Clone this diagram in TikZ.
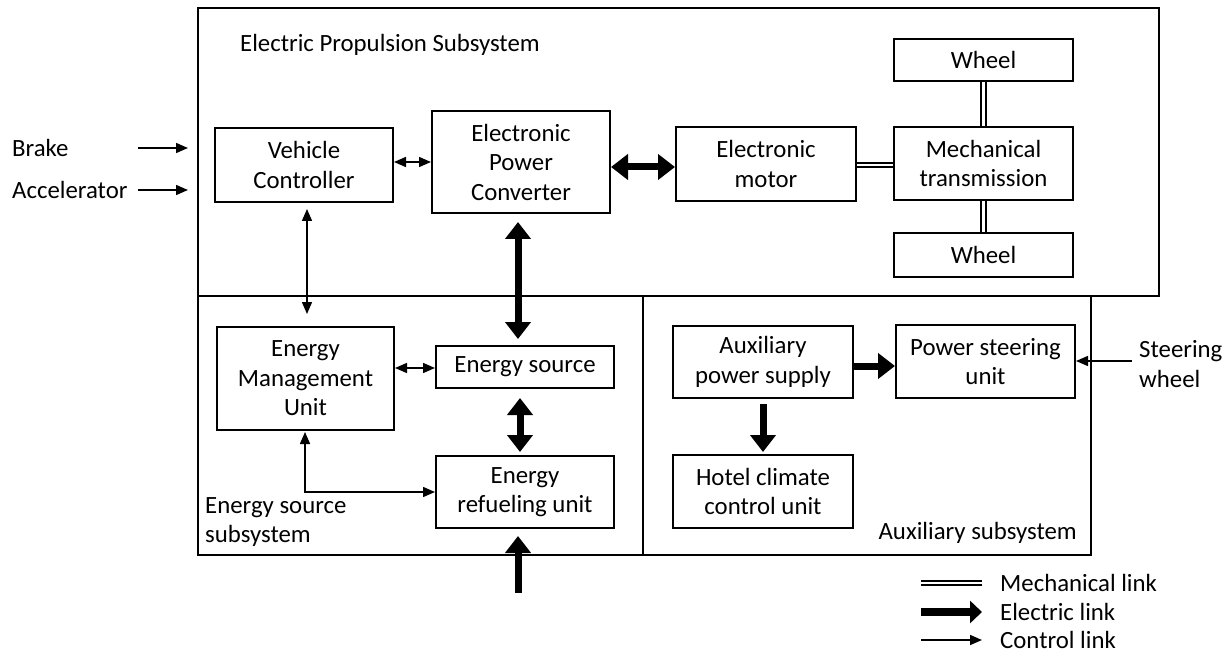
\documentclass[tikz,border=0pt]{standalone}
\usepackage{fontspec}
\setmainfont{Carlito}
\usetikzlibrary{arrows.meta,calc}
\begin{document}
\begin{tikzpicture}[x=1pt,y=-1pt,
  txt/.style={font=\fontsize{24.8}{29.5}\selectfont, inner sep=0pt},
  box/.style={txt, draw, line width=2pt, align=center, minimum width=#1},
  frame/.style={draw, line width=2pt},
  ctrl/.style={line width=1.5pt, arrows={-Triangle[length=12pt,width=10pt]}},
  ctrlb/.style={line width=1.5pt, arrows={Triangle[length=12pt,width=10pt]-Triangle[length=12pt,width=10pt]}},
  elec/.style={line width=7pt, arrows={-Triangle[length=17pt,width=25pt]}},
  elecb/.style={line width=7pt, arrows={Triangle[length=17pt,width=25pt]-Triangle[length=17pt,width=25pt]}},
  mech/.style={double, double distance=2.4pt, line width=1.9pt}
]
\useasboundingbox (0,0) rectangle (1229,663);
% frames
\draw[frame] (198,8) rectangle (1159,296);
\draw[frame] (198,296) rectangle (643,555);
\draw[frame] (643,296) rectangle (1091,555);

% labels
\node[txt, anchor=west] (lbrake) at (12,148) {Brake};
\node[txt, anchor=west] (lacc) at (12,190) {Accelerator};
\node[txt, anchor=west] (leps) at (240,45) {Electric Propulsion Subsystem};
\node[txt, anchor=west, align=left] (less) at (205,522) {Energy source\\subsystem};
\node[txt, anchor=east] (laux) at (1077,533) {Auxiliary subsystem};
\node[txt, anchor=west, align=left] (lsteer) at (1139,364) {Steering\\wheel};

% boxes
\node[box=178pt, minimum height=74pt] (vc) at (304,165) {Vehicle\\Controller};
\node[box=178pt, minimum height=102pt] (epc) at (521,162) {Electronic\\Power\\Converter};
\node[box=180pt, minimum height=74pt] (em) at (766,164) {Electronic\\motor};
\node[box=179pt, minimum height=42pt] (w1) at (983.5,60) {Wheel};
\node[box=179pt, minimum height=73pt] (mt) at (983.5,163.5) {Mechanical\\transmission};
\node[box=179pt, minimum height=44pt] (w2) at (983.5,255) {Wheel};
\node[box=177pt, minimum height=103pt] (emu) at (305.5,378.5) {Energy\\Management\\Unit};
\node[box=178pt, minimum height=42pt] (es) at (525,367) {Energy source};
\node[box=178pt, minimum height=72pt] (eru) at (525,492) {Energy\\refueling unit};
\node[box=180pt, minimum height=72pt] (aps) at (763,362) {Auxiliary\\power supply};
\node[box=179pt, minimum height=73pt] (ps) at (985.5,361.5) {Power steering\\unit};
\node[box=180pt, minimum height=73pt] (hc) at (763,491.5) {Hotel climate\\control unit};

% helper coordinates
\coordinate (bs) at (138,148);
\coordinate (as) at (138,190);
\coordinate (cx1) at (307,0);
\coordinate (cy1) at (0,162);
\coordinate (cy2) at (0,167);
\coordinate (cx2) at (518,0);
\coordinate (cy3) at (0,368);
\coordinate (cx3) at (520,0);
\coordinate (cx4) at (305,0);
\coordinate (cy4) at (0,492);
\coordinate (inb) at (518,593);
\coordinate (cy5) at (0,366);
\coordinate (sts) at (1132,361);

% control links
\draw[ctrl] (bs) -- (bs -| 188,0);
\draw[ctrl] (as) -- (as -| 188,0);
\draw[ctrlb] (vc.east |- cy1) -- (epc.west |- cy1);
\draw[ctrlb, shorten <=6pt, shorten >=12pt] (vc.south -| cx1) -- (emu.north -| cx1);
\draw[ctrlb] (emu.east |- cy3) -- (es.west |- cy3);
\draw[ctrlb] ([yshift=-1pt]emu.south -| cx4) -- (cx4 |- cy4) -- (eru.west |- cy4);
\draw[ctrl] (sts) -- (ps.east |- sts);

% electric links
\draw[elecb] (epc.east |- cy2) -- (em.west |- cy2);
\draw[elecb, shorten <=8pt, shorten >=6pt] (epc.south -| cx2) -- (es.north -| cx2);
\draw[elecb, shorten <=9pt, shorten >=3pt] (es.south -| cx3) -- (eru.north -| cx3);
\draw[elec, shorten >=7pt] (inb) -- (eru.south -| inb);
\draw[elec] (aps.east |- cy5) -- (ps.west |- cy5);
\draw[elec, shorten <=5pt, shorten >=2pt] (aps.south) -- (hc.north);

% mechanical links
\draw[mech] (em.east |- 0,165) -- (mt.west |- 0,165);
\draw[mech] (w1.south) -- (mt.north);
\draw[mech] (mt.south) -- (w2.north);

% legend
\coordinate (l1a) at (921,583); \coordinate (l1b) at (982,583);
\coordinate (l2a) at (921,612); \coordinate (l2b) at (982,612);
\coordinate (l3a) at (921,640); \coordinate (l3b) at (982,640);
\draw[mech] (l1a) -- (l1b);
\draw[line width=8pt, arrows={-Triangle[length=12pt,width=22pt]}] (l2a) -- (l2b);
\draw[ctrl] (l3a) -- (l3b);
\node[txt, anchor=west] (leg1) at (1000,583) {Mechanical link};
\node[txt, anchor=west] (leg2) at (1000,612) {Electric link};
\node[txt, anchor=west] (leg3) at (1000,640) {Control link};
\end{tikzpicture}
\end{document}
